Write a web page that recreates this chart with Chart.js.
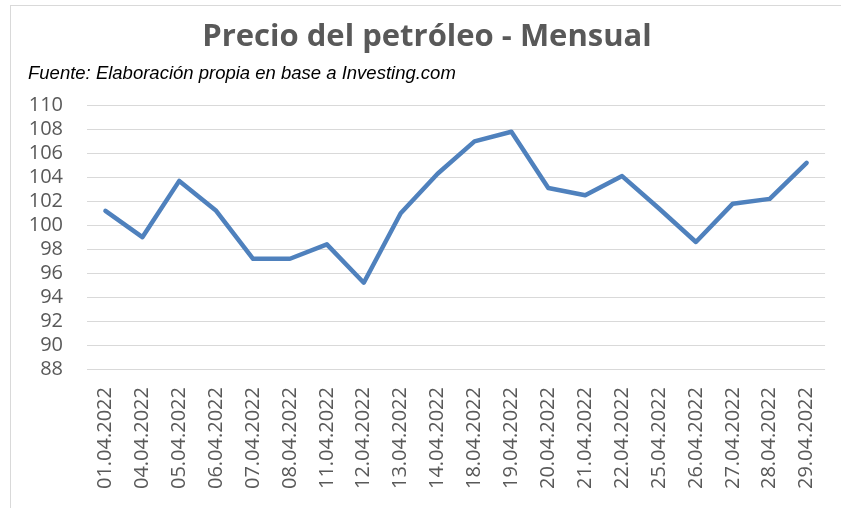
<!DOCTYPE html>
<html>
<head>
<meta charset="utf-8">
<script src="https://cdn.jsdelivr.net/npm/chart.js@4"></script>
<style>
    html, body { margin: 0; padding: 0; background: #ffffff; }
    #wrap { position: relative; width: 841px; height: 508px; overflow: hidden; }
    #frame { position: absolute; left: 10px; top: 5px; width: 840px; height: 520px;
             border-left: 1px solid #d9d9d9; border-top: 1px solid #d9d9d9; }
    canvas { position: absolute; left: 0; top: 0; }
</style>
</head>
<body>
<div id="wrap">
    <div id="frame"></div>
    <canvas id="oilChart" width="841" height="508"></canvas>
</div>
<script>
const fechas = ['01.04.2022', '04.04.2022', '05.04.2022', '06.04.2022', '07.04.2022',
    '08.04.2022', '11.04.2022', '12.04.2022', '13.04.2022', '14.04.2022',
    '18.04.2022', '19.04.2022', '20.04.2022', '21.04.2022', '22.04.2022',
    '25.04.2022', '26.04.2022', '27.04.2022', '28.04.2022', '29.04.2022'];
const precios = [101.2, 99.0, 103.7, 101.2, 97.2, 97.2, 98.4, 95.2, 101.0, 104.3,
    107.0, 107.8, 103.1, 102.5, 104.1, 101.4, 98.6, 101.8, 102.2, 105.2];
const ejeMin = 88;
const ejeMax = 110;
const ejePaso = 2;

const tituloTexto = 'Precio del petróleo - Mensual';
const fuenteTexto = 'Fuente: Elaboración propia en base a Investing.com';

const ctx = document.getElementById('oilChart').getContext('2d');
new Chart(ctx, {
    type: 'line',
    data: {
        labels: fechas,
        datasets: [{
            label: 'Precio',
            data: precios,
            borderColor: '#4f81bd',
            borderWidth: 4.5,
            borderJoinStyle: 'round',
            borderCapStyle: 'round',
            pointRadius: 0,
            tension: 0,
            fill: false
        }]
    },
    options: {
        responsive: false,
        animation: false,
        layout: { padding: { left: 28, right: 15, top: 19, bottom: 9 } },
        plugins: {
            legend: { display: false },
            tooltip: { enabled: false },
            title: {
                display: true,
                text: tituloTexto,
                color: '#595959',
                font: { family: 'Open Sans', size: 31, weight: 'bold' },
                padding: { top: 0, bottom: 7 }
            },
            subtitle: {
                display: true,
                text: fuenteTexto,
                align: 'start',
                color: '#000000',
                font: { family: 'Liberation Sans', size: 18.5, style: 'italic' },
                padding: { top: 0, bottom: 20 }
            }
        },
        scales: {
            x: {
                offset: true,
                grid: { display: false },
                border: { display: false },
                ticks: {
                    minRotation: 90,
                    maxRotation: 90,
                    autoSkip: false,
                    padding: 10,
                    color: '#595959',
                    font: { family: 'Open Sans', size: 20 }
                }
            },
            y: {
                min: ejeMin,
                max: ejeMax,
                grid: { color: '#d9d9d9', lineWidth: 1, drawTicks: false },
                border: { display: false },
                afterFit: (escala) => { escala.width = 59; },
                ticks: {
                    stepSize: ejePaso,
                    autoSkip: false,
                    padding: 24,
                    color: '#595959',
                    font: { family: 'Open Sans', size: 20 }
                }
            }
        }
    }
});
</script>
</body>
</html>
